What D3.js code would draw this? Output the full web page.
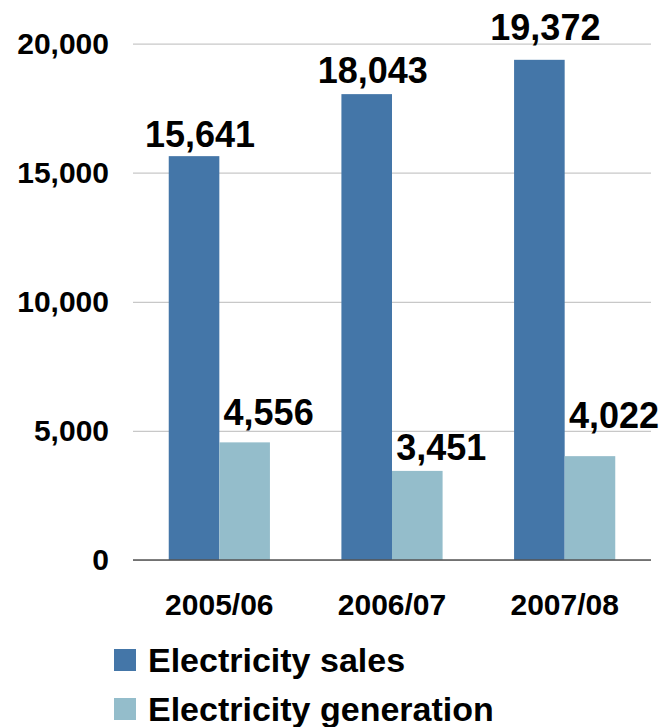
<!DOCTYPE html>
<html><head><meta charset="utf-8">
<script src="https://cdn.jsdelivr.net/npm/d3@7"></script>
<style>
html,body{margin:0;padding:0;background:#fff;}
svg{display:block;font-family:"Liberation Sans",Arial,sans-serif;font-weight:bold;}
</style></head>
<body>
<svg id="chart" width="660" height="727"></svg>
<script>
const categories = ["2005/06", "2006/07", "2007/08"];
const seriesNames = ["Electricity sales", "Electricity generation"];
const sales = [15641, 18043, 19372];
const generation = [4556, 3451, 4022];
const yTicks = [0, 5000, 10000, 15000, 20000];

(function () {
// label layout (style): per-series horizontal offset and per-bar gap above bar
const labelDx = [6, 24];
const labelGap = [[9, 11, 20], [17, 11, 28]];
const colors = ["#4476A8", "#94BDCB"];

const svg = d3.select("#chart");
const mLeft = 133, mRight = 651, mTop = 43.6, mBottom = 560;

const x = d3.scaleBand().domain(categories).range([mLeft, mRight])
  .paddingInner(0.414).paddingOuter(0.207);
const xs = d3.scaleBand().domain(seriesNames).range([0, x.bandwidth()]);
const y = d3.scaleLinear().domain([0, 20000]).range([mBottom, mTop]);

const fmt = d3.format(",");

// gridlines + y labels
const yAxis = d3.axisLeft(y).tickValues(yTicks).tickSize(-(mRight - mLeft)).tickPadding(24).tickFormat(fmt);
const gy = svg.append("g").attr("transform", `translate(${mLeft},0)`).call(yAxis);
gy.select(".domain").remove();
gy.selectAll(".tick line").attr("stroke", "#c8c8c8").attr("stroke-width", 1.2);
gy.selectAll(".tick text").attr("font-size", 30).attr("fill", "#000")
  .attr("font-family", '"Liberation Sans",Arial,sans-serif').attr("font-weight", "bold");

const data = [sales, generation];

// bars
seriesNames.forEach((s, si) => {
  svg.append("g").selectAll("rect").data(categories).join("rect")
    .attr("x", c => x(c) + xs(s))
    .attr("y", (c, i) => y(data[si][i]))
    .attr("width", xs.bandwidth())
    .attr("height", (c, i) => y(0) - y(data[si][i]))
    .attr("fill", colors[si]);
});

// zero axis line
svg.append("line").attr("x1", mLeft).attr("x2", mRight).attr("y1", y(0)).attr("y2", y(0))
  .attr("stroke", "#555").attr("stroke-width", 1.6);

// value labels
seriesNames.forEach((s, si) => {
  svg.append("g").selectAll("text").data(categories).join("text")
    .attr("x", c => x(c) + xs(s) + xs.bandwidth() / 2 + labelDx[si])
    .attr("y", (c, i) => y(data[si][i]) - labelGap[si][i])
    .attr("text-anchor", "middle")
    .attr("font-size", 36)
    .attr("fill", "#000")
    .text((c, i) => fmt(data[si][i]));
});

// x labels
const xAxis = d3.axisBottom(x).tickSize(0).tickPadding(0);
const gx = svg.append("g").attr("transform", `translate(0,${mBottom})`).call(xAxis);
gx.select(".domain").remove();
gx.selectAll(".tick text").attr("font-size", 30).attr("fill", "#000")
  .attr("font-family", '"Liberation Sans",Arial,sans-serif').attr("font-weight", "bold")
  .attr("dy", null).attr("y", 55);

// legend
const leg = svg.append("g").selectAll("g").data(seriesNames).join("g")
  .attr("transform", (d, i) => `translate(114,${649 + i * 49})`);
leg.append("rect").attr("width", 22).attr("height", 22).attr("fill", (d, i) => colors[i]);
leg.append("text").attr("x", 34).attr("y", 23).attr("font-size", 34).attr("fill", "#000").text(d => d);
})();
</script>
</body></html>
